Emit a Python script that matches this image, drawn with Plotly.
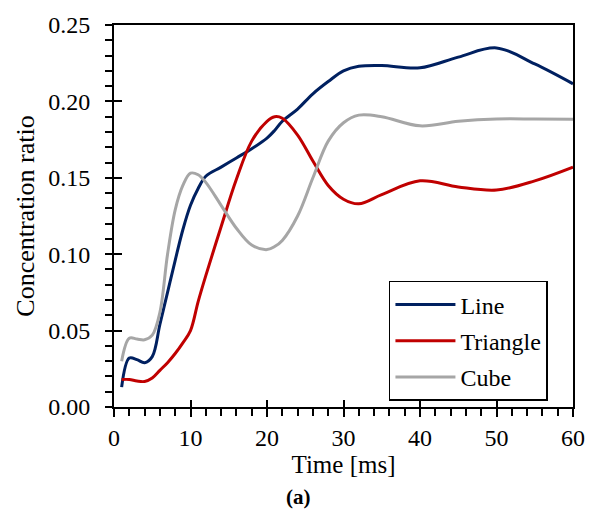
import plotly.graph_objects as go

# Sampled times [ms] and concentration ratios for each geometry
time_ms = [1, 2, 3, 4, 5, 6, 7, 8, 9, 10, 11, 12, 14, 16, 18, 20, 21, 22,
           24, 26, 28, 30, 32, 35, 40, 45, 50, 55, 60]
line_ratio = [0.013, 0.032, 0.031, 0.029, 0.033, 0.054, 0.075, 0.096, 0.116,
              0.132, 0.143, 0.151, 0.157, 0.163, 0.169, 0.176, 0.181, 0.187,
              0.195, 0.205, 0.213, 0.220, 0.223, 0.2235, 0.222, 0.229, 0.235,
              0.2245, 0.2115]
triangle_ratio = [0.018, 0.018, 0.017, 0.0167, 0.019, 0.024, 0.029, 0.035,
                  0.042, 0.050, 0.069, 0.086, 0.118, 0.149, 0.174, 0.187,
                  0.190, 0.189, 0.178, 0.161, 0.145, 0.136, 0.133, 0.139,
                  0.148, 0.144, 0.142, 0.148, 0.157]
cube_ratio = [0.030, 0.045, 0.0445, 0.044, 0.047, 0.062, 0.100, 0.129, 0.145,
              0.153, 0.152, 0.147, 0.132, 0.117, 0.106, 0.103, 0.105, 0.109,
              0.125, 0.150, 0.174, 0.186, 0.191, 0.190, 0.184, 0.187, 0.1885,
              0.1885, 0.1883]

x_ticks = [0, 10, 20, 30, 40, 50, 60]
y_ticks = [0.00, 0.05, 0.10, 0.15, 0.20, 0.25]

series = [
    ("Line", line_ratio, "#002060"),
    ("Triangle", triangle_ratio, "#C00000"),
    ("Cube", cube_ratio, "#A6A6A6"),
]

FONT = "Liberation Serif"

fig = go.Figure()
for i, (name, vals, color) in enumerate(series):
    fig.add_trace(go.Scatter(
        x=time_ms, y=vals, name=name, mode="lines",
        line=dict(color=color, width=3, shape="spline", smoothing=1.0),
        legendgroup=f"g{i}",
    ))

# Invisible trace on the overlay axes so their inward ticks are drawn
fig.add_trace(go.Scatter(
    x=time_ms, y=line_ratio, xaxis="x2", yaxis="y2", mode="lines",
    line=dict(color="rgba(0,0,0,0)"), showlegend=False, hoverinfo="skip",
))

axis_common = dict(showgrid=False, zeroline=False)

fig.update_layout(
    width=598, height=512,
    margin=dict(l=114, r=25, t=18, b=105),
    paper_bgcolor="white", plot_bgcolor="white",
    font=dict(family=FONT, size=24, color="black"),
    showlegend=True,
    legend=dict(
        x=0.599, y=0.33, xanchor="left", yanchor="top",
        bordercolor="black", borderwidth=1.5, bgcolor="white",
        font=dict(family=FONT, size=24), tracegroupgap=2,
        traceorder="grouped", itemwidth=60,
    ),
    xaxis=dict(
        range=[0, 60], tickvals=x_ticks, ticks="outside", ticklen=8,
        tickwidth=2, tickcolor="black", showline=True, linecolor="black",
        linewidth=2, mirror=True,
        minor=dict(dtick=2, ticks="outside", ticklen=7, tickwidth=1.5,
                   tickcolor="black"),
        title=dict(text="Time [ms]", standoff=2,
                   font=dict(family=FONT, size=25)),
        tickfont=dict(family=FONT, size=24),
        **axis_common,
    ),
    yaxis=dict(
        range=[0, 0.25], tickvals=y_ticks, tickformat=".2f", ticks="outside",
        ticklen=7, tickwidth=2, tickcolor="black", showline=True,
        linecolor="black", linewidth=2, mirror=True,
        minor=dict(dtick=0.01, ticks="outside", ticklen=7, tickwidth=1.5,
                   tickcolor="black"),
        title=dict(text="Concentration ratio", standoff=6,
                   font=dict(family=FONT, size=26)),
        tickfont=dict(family=FONT, size=24),
        ticklabelstandoff=10,
        **axis_common,
    ),
    xaxis2=dict(
        range=[0, 60], tickvals=x_ticks, ticks="inside", ticklen=7,
        tickwidth=2, tickcolor="black", showticklabels=False,
        overlaying="x", anchor="y2", side="bottom", showline=False,
        **axis_common,
    ),
    yaxis2=dict(
        range=[0, 0.25], tickvals=y_ticks, ticks="inside", ticklen=8,
        tickwidth=2, tickcolor="black", showticklabels=False,
        overlaying="y", anchor="x2", side="left", showline=False,
        **axis_common,
    ),
    annotations=[
        dict(text="<b>(a)</b>", xref="paper", yref="paper", x=0.403, y=-0.236,
             xanchor="center", yanchor="middle", showarrow=False,
             font=dict(family=FONT, size=21)),
    ],
)

fig.write_html("out.html")
